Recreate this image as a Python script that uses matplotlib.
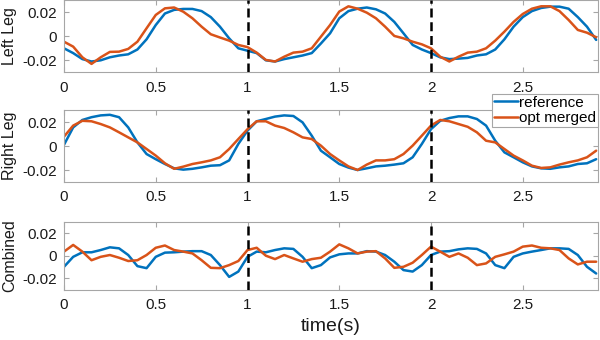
import numpy as np
import matplotlib
matplotlib.use("Agg")
import matplotlib.pyplot as plt

plt.rcParams['font.family'] = ['Liberation Sans', 'DejaVu Sans']

# time grid (s), step 0.05
t = np.round(np.arange(59) * 0.05, 2)

left_ref = [-0.010, -0.014, -0.019, -0.021, -0.020, -0.0175, -0.016, -0.015, -0.011, -0.0025,
            0.0094, 0.019, 0.022, 0.0228, 0.0228, 0.021, 0.016, 0.008, -0.0017, -0.010,
            -0.012, -0.014, -0.020, -0.021, -0.019, -0.0175, -0.016, -0.014, -0.006, 0.0025,
            0.015, 0.021, 0.023, 0.024, 0.0225, 0.019, 0.012, 0.0025, -0.0072, -0.011,
            -0.014, -0.0175, -0.019, -0.0186, -0.018, -0.016, -0.015, -0.011, -0.0025, 0.008,
            0.016, 0.021, 0.0236, 0.0247, 0.0247, 0.023, 0.016, 0.008, -0.003]
left_opt = [-0.0045, -0.0086, -0.0175, -0.023, -0.0175, -0.013, -0.0128, -0.0105, -0.0045, 0.0067,
            0.0178, 0.0233, 0.024, 0.0205, 0.015, 0.008, 0.0017, -0.001, -0.0036, -0.0072,
            -0.009, -0.0136, -0.0197, -0.021, -0.017, -0.0136, -0.0128, -0.010, -0.0003, 0.0094,
            0.0206, 0.025, 0.023, 0.0197, 0.015, 0.008, 0.0003, -0.0017, -0.0045, -0.0067,
            -0.010, -0.017, -0.021, -0.017, -0.0136, -0.0128, -0.010, -0.0036, 0.0039, 0.012,
            0.0186, 0.023, 0.025, 0.025, 0.021, 0.0136, 0.0053, 0.003, -0.0008]

right_ref = [0.001, 0.0155, 0.0217, 0.024, 0.0255, 0.026, 0.024, 0.0155, 0.003, -0.0067,
             -0.011, -0.015, -0.0186, -0.0197, -0.019, -0.0178, -0.0164, -0.016, -0.012, 0.0017,
             0.0128, 0.0206, 0.0225, 0.0245, 0.0255, 0.025, 0.0197, 0.0086, -0.0039, -0.0094,
             -0.015, -0.018, -0.020, -0.0186, -0.017, -0.0164, -0.0155, -0.0144, -0.0094, 0.0017,
             0.014, 0.021, 0.0233, 0.0247, 0.0247, 0.0225, 0.017, 0.0044, -0.0053, -0.0094,
             -0.0136, -0.017, -0.0186, -0.019, -0.0178, -0.017, -0.015, -0.0144, -0.011]
right_opt = [0.0078, 0.017, 0.021, 0.0206, 0.0183, 0.0155, 0.0114, 0.0072, 0.003, -0.0025,
             -0.008, -0.0144, -0.019, -0.0172, -0.015, -0.0136, -0.012, -0.0094, -0.0025, 0.0058,
             0.014, 0.0206, 0.0206, 0.017, 0.015, 0.0114, 0.0072, 0.0058, 0.0003, -0.0067,
             -0.012, -0.017, -0.020, -0.0155, -0.012, -0.012, -0.011, -0.0067, 0.0003, 0.0086,
             0.017, 0.0217, 0.0206, 0.0183, 0.016, 0.0114, 0.0044, 0.003, -0.0025, -0.008,
             -0.012, -0.0164, -0.0183, -0.0178, -0.0155, -0.0136, -0.012, -0.0094, -0.0039]

comb_ref = [-0.0098, -0.001, 0.003, 0.003, 0.005, 0.0074, 0.0065, 0.0006, -0.0092, -0.011,
            -0.001, 0.0027, 0.003, 0.0036, 0.004, 0.004, 0.0006, -0.0083, -0.0187, -0.014,
            -0.001, 0.0036, 0.003, 0.005, 0.0065, 0.006, -0.001, -0.011, -0.0083, -0.0015,
            0.0012, 0.002, 0.002, 0.004, 0.0036, 0.0006, -0.0053, -0.0127, -0.014, -0.0083,
            0.0006, 0.0036, 0.004, 0.0056, 0.0065, 0.006, 0.002, -0.0083, -0.011, -0.001,
            0.002, 0.0036, 0.005, 0.0065, 0.0065, 0.006, 0.0006, -0.0098, -0.0157]
comb_opt = [0.0036, 0.0095, 0.0036, -0.004, -0.001, 0.0006, -0.0018, -0.0047, -0.004, 0.0006,
            0.007, 0.009, 0.005, 0.0036, 0.002, -0.004, -0.0107, -0.011, -0.0083, -0.0047,
            0.005, 0.007, 0.0, -0.003, 0.0006, -0.0024, -0.0053, -0.003, -0.0018, 0.0036,
            0.010, 0.0065, 0.002, 0.0036, 0.004, -0.0024, -0.0107, -0.0098, -0.0062, 0.0006,
            0.008, 0.0036, -0.001, 0.002, -0.0018, -0.0083, -0.0068, -0.001, 0.0012, 0.0036,
            0.008, 0.009, 0.007, 0.0065, 0.005, -0.0024, -0.0077, -0.0053, -0.0053]

panel_labels = ['Left Leg', 'Right Leg', 'Combined']
series_labels = ['reference', 'opt merged']
xticks = [0, 0.5, 1, 1.5, 2, 2.5]
xticklabels = ['0', '0.5', '1', '1.5', '2', '2.5']
yticks = [-0.02, 0, 0.02]
yticklabels = ['-0.02', '0', '0.02']
step_marks = [1, 2]

BLUE = '#0072BD'
RED = '#D95319'
GREY = '#a6a6a6'
TXT = '#1a1a1a'

fig = plt.figure(figsize=(6, 3.4), dpi=100)
W, H = 600.0, 340.0
left_px, right_px = 64, 598
panel_px = [(0.3, 72.3), (110, 182), (221.7, 289.7)]
data = [(left_ref, left_opt), (right_ref, right_opt), (comb_ref, comb_opt)]

axes = []
for i, ((top, bot), (ref, opt)) in enumerate(zip(panel_px, data)):
    ax = fig.add_axes([left_px / W, 1 - bot / H, (right_px - left_px) / W, (bot - top) / H])
    l1, = ax.plot(t, ref, color=BLUE, lw=1.8, label=series_labels[0],
                  solid_joinstyle='round', solid_capstyle='round')
    l2, = ax.plot(t, opt, color=RED, lw=1.8, label=series_labels[1],
                  solid_joinstyle='round', solid_capstyle='round')
    for s in step_marks:
        ax.axvline(s, color='black', lw=1.8, ls=(0, (3.6, 1.9)), zorder=5)
    ax.set_xlim(0, 2.91)
    ax.set_ylim(-0.03, 0.03)
    ax.set_xticks(xticks)
    ax.set_xticklabels(xticklabels)
    ax.set_yticks(yticks)
    ax.set_yticklabels(yticklabels)
    ax.tick_params(direction='in', top=True, right=True, length=3.5, width=0.8,
                   color=GREY, labelsize=11, labelcolor=TXT)
    ax.tick_params(axis='x', pad=6)
    ax.tick_params(axis='y', pad=5)
    for sp in ax.spines.values():
        sp.set_color(GREY)
        sp.set_linewidth(0.8)
    ax.set_ylabel(panel_labels[i], fontsize=11.5, color=TXT)
    ax.yaxis.set_label_coords(-0.088, 0.5)
    axes.append(ax)
    if i == 1:
        leg = ax.legend(handles=[l1, l2], loc='upper right',
                        bbox_to_anchor=(598 / W, 1 - 94 / H), bbox_transform=fig.transFigure,
                        fontsize=11, handlelength=1.55, handletextpad=0.1,
                        borderpad=0.12, labelspacing=0.1, borderaxespad=0,
                        fancybox=False, framealpha=1)
        leg.get_frame().set_edgecolor(GREY)
        leg.get_frame().set_linewidth(0.8)
        leg.set_zorder(10)

axes[2].set_xlabel('time(s)', fontsize=14, color=TXT, labelpad=4)

fig.savefig('out.png', dpi=100)
